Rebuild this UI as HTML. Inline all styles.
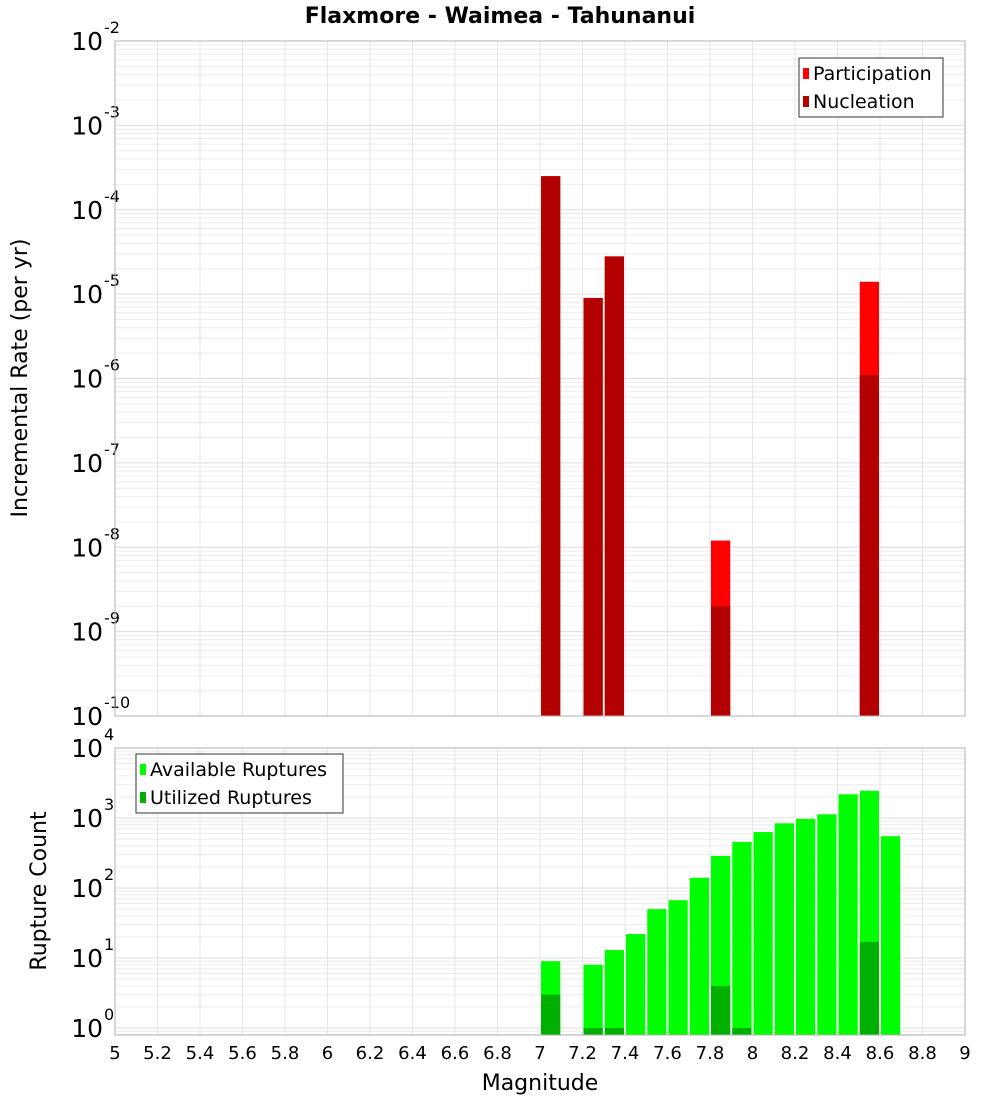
<!DOCTYPE html>
<html><head><meta charset="utf-8"><style>
html,body{margin:0;padding:0;background:#fff;}
svg{display:block;font-family:"Liberation Sans","DejaVu Sans",sans-serif;}
</style></head><body>
<svg id="chart" width="1000" height="1100" xmlns="http://www.w3.org/2000/svg">
<text x="500" y="23" text-anchor="middle" font-size="22" font-weight="bold" font-family="DejaVu Sans, sans-serif">Flaxmore - Waimea - Tahunanui</text>
<text transform="translate(27,378) rotate(-90)" text-anchor="middle" font-size="22" font-family="DejaVu Sans, sans-serif">Incremental Rate (per yr)</text>
<text transform="translate(46,891) rotate(-90)" text-anchor="middle" font-size="22" font-family="DejaVu Sans, sans-serif">Rupture Count</text>
<text x="540" y="1090" text-anchor="middle" font-size="22" font-family="DejaVu Sans, sans-serif">Magnitude</text>
<g id="g"></g>
</svg>
<script>
// Top panel data
const topMags = [7.05, 7.25, 7.35, 7.85, 8.55];
const participation = [2.5e-4, 9e-6, 2.8e-5, 1.2e-8, 1.4e-5];
const nucleation = [2.5e-4, 9e-6, 2.8e-5, 2.0e-9, 1.1e-6];
// Bottom panel data
const botMags = [7.05, 7.25, 7.35, 7.45, 7.55, 7.65, 7.75, 7.85, 7.95, 8.05, 8.15, 8.25, 8.35, 8.45, 8.55, 8.65];
const available = [9, 8, 13, 22, 50, 67, 140, 287, 455, 630, 840, 970, 1130, 2180, 2450, 550];
const utilized = [3, 1, 1, 0, 0, 0, 0, 4, 1, 0, 0, 0, 0, 0, 17, 0];
const xTicks = ["5","5.2","5.4","5.6","5.8","6","6.2","6.4","6.6","6.8","7","7.2","7.4","7.6","7.8","8","8.2","8.4","8.6","8.8","9"];
const topExps = [-10,-9,-8,-7,-6,-5,-4,-3,-2];
const botExps = [0,1,2,3,4];

const NS = "http://www.w3.org/2000/svg";
const g = document.getElementById('g');
function mk(tag, attrs, parent){const e=document.createElementNS(NS,tag);for(const k in attrs)e.setAttribute(k,attrs[k]);(parent||g).appendChild(e);return e;}
const X0=115, X1=965, XMIN=5, XMAX=9;
const x = m => X0 + (m-XMIN)/(XMAX-XMIN)*(X1-X0);
const T = {top:41, bot:716, lmin:-10, lmax:-2};
const B = {top:748, bot:1035, lmin:-0.1, lmax:4};
const yOf = (P,v) => P.bot - (Math.log10(v)-P.lmin)/(P.lmax-P.lmin)*(P.bot-P.top);

function panel(P, name, exps){
  const pg = mk('g',{});
  
  
  mk('rect',{x:X0,y:P.top,width:X1-X0,height:P.bot-P.top,fill:'#fff'},pg);
  // horizontal grid
  for(let e=Math.floor(P.lmin); e<P.lmax; e++){
    for(let k=1;k<10;k++){
      const v=k*Math.pow(10,e); const lv=Math.log10(v);
      if(lv<P.lmin||lv>P.lmax) continue;
      const y=yOf(P,v);
      mk('line',{x1:X0,x2:X1,y1:y,y2:y,stroke:k==1?'#dcdcdc':'#ececec','stroke-width':1},pg);
    }
  }
  for(let i=1;i<xTicks.length-1;i++){
    const xx=x(parseFloat(xTicks[i]));
    mk('line',{x1:xx,x2:xx,y1:P.top,y2:P.bot,stroke:'#e6e6e6','stroke-width':1},pg);
  }
  // y tick labels
  exps.forEach(e=>{
    const y=yOf(P,Math.pow(10,e));
    const t=mk('text',{x:103,y:y+9,'text-anchor':'end','font-size':25,'font-family':'DejaVu Sans, sans-serif'});
    
    
    t.textContent='10';
    const s=mk('text',{x:104,y:y-8,'font-size':16,'font-family':'DejaVu Sans, sans-serif'});
    
    
    s.textContent=String(e);
  });
}
panel(T,'top',topExps);
panel(B,'bottom',botExps);

function bar(m, v, P, color, nm){
  if(!v) return;
  const y=yOf(P,v);
  const r=mk('rect',{x:x(m-0.05)+1,y:y,width:x(m+0.05)-x(m-0.05)-2,height:P.bot-y,fill:color});
  
  
}
topMags.forEach((m,i)=>{bar(m,participation[i],T,'#ff0000','participation-bar');});
topMags.forEach((m,i)=>{bar(m,nucleation[i],T,'#b30000','nucleation-bar');});
botMags.forEach((m,i)=>{bar(m,available[i],B,'#00ff00','available-ruptures-bar');});
botMags.forEach((m,i)=>{bar(m,utilized[i],B,'#00b000','utilized-ruptures-bar');});

// borders
[T,B].forEach(P=>{mk('rect',{x:X0,y:P.top,width:X1-X0,height:P.bot-P.top,fill:'none',stroke:'#b0b0b0','stroke-width':1});});

// x tick labels
xTicks.forEach(t=>{
  const e=mk('text',{x:x(parseFloat(t)),y:1059,'text-anchor':'middle','font-size':18,'font-family':'DejaVu Sans, sans-serif'});
  
  
  e.textContent=t;
});

// legends
function legend(lx,ly,w,items,nm){
  const lg=mk('g',{});
  
  
  mk('rect',{x:lx,y:ly,width:w,height:59,fill:'#fff',stroke:'#333','stroke-width':1},lg);
  items.forEach((it,i)=>{
    const cy=ly+15+i*28;
    mk('rect',{x:lx+4,y:cy-5,width:6,height:11,fill:it[1]},lg);
    const t=mk('text',{x:lx+14,y:cy+7,'font-size':19,'font-family':'DejaVu Sans, sans-serif'},lg);
    
    
    t.textContent=it[0];
  });
}
legend(799,58,144,[['Participation','#ff0000'],['Nucleation','#b30000']],'top-legend');
legend(136,754,207,[['Available Ruptures','#00ff00'],['Utilized Ruptures','#00b000']],'bottom-legend');
</script>
</body></html>
